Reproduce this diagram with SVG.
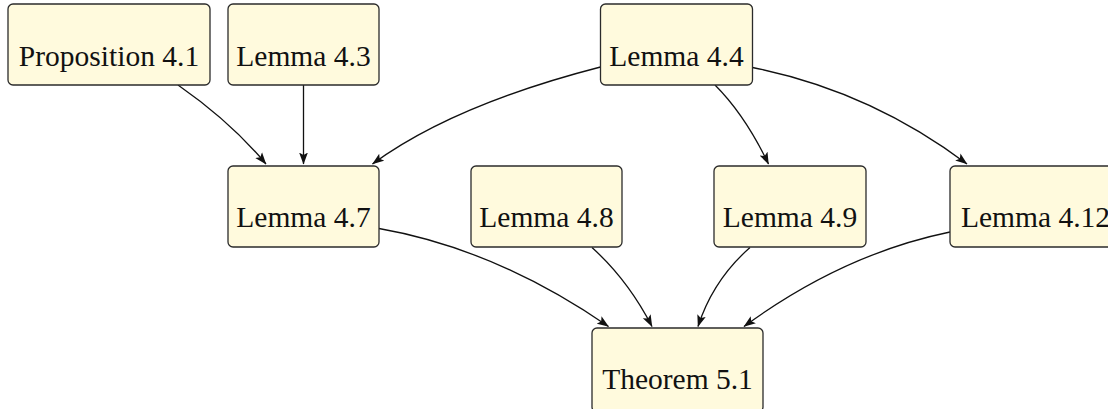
<svg xmlns="http://www.w3.org/2000/svg" width="1108" height="409" viewBox="0 0 1108 409">
<style>
.box{fill:#fffadd;stroke:#2b2b2b;stroke-width:1.3}
.lbl{font-family:"Liberation Serif","Times New Roman",serif;font-size:29.5px;fill:#111;text-anchor:middle}
.edge{fill:none;stroke:#111;stroke-width:1.3}
</style>
<defs>
<marker id="arr" viewBox="0 0 12 10" refX="11.5" refY="5" markerWidth="12" markerHeight="10" markerUnits="userSpaceOnUse" orient="auto">
<path d="M0,0.6 L12,5 L0,9.4 L2.6,5 Z" fill="#111"/>
</marker>
</defs>
<rect width="1108" height="409" fill="#ffffff"/>
<g id="connectors">
<path class="edge" marker-end="url(#arr)" d="M178,85 Q231,122 266,164"/>
<path class="edge" marker-end="url(#arr)" d="M303.5,85 L303.5,164"/>
<path class="edge" marker-end="url(#arr)" d="M600.5,67 Q453,105 372.5,164"/>
<path class="edge" marker-end="url(#arr)" d="M715,85 Q745,115 768.5,164"/>
<path class="edge" marker-end="url(#arr)" d="M752.5,67.5 Q870,91 967,164"/>
<path class="edge" marker-end="url(#arr)" d="M379,228.5 Q496,249 608.5,326.5"/>
<path class="edge" marker-end="url(#arr)" d="M592,247.5 Q628,280 652,326.5"/>
<path class="edge" marker-end="url(#arr)" d="M750,247.5 Q713,280 698,326.5"/>
<path class="edge" marker-end="url(#arr)" d="M950,232 Q843,254 744,326.5"/>
</g>
<g id="prop41"><rect class="box" x="8" y="4" width="202" height="81" rx="5"/><text class="lbl" x="109" y="65.5">Proposition 4.1</text></g>
<g id="lem43"><rect class="box" x="228" y="4" width="151" height="81" rx="5"/><text class="lbl" x="303.5" y="65.5">Lemma 4.3</text></g>
<g id="lem44"><rect class="box" x="600.5" y="4" width="152" height="81" rx="5"/><text class="lbl" x="676.5" y="65.5">Lemma 4.4</text></g>
<g id="lem47"><rect class="box" x="228" y="166" width="151" height="81" rx="5"/><text class="lbl" x="303.5" y="227">Lemma 4.7</text></g>
<g id="lem48"><rect class="box" x="471" y="166" width="151" height="81" rx="5"/><text class="lbl" x="546.5" y="227">Lemma 4.8</text></g>
<g id="lem49"><rect class="box" x="714" y="166" width="152" height="81" rx="5"/><text class="lbl" x="790" y="227">Lemma 4.9</text></g>
<g id="lem412"><rect class="box" x="950" y="166" width="172" height="81" rx="5"/><text class="lbl" x="961" y="227" style="text-anchor:start">Lemma 4.12</text></g>
<g id="thm51"><rect class="box" x="592" y="328" width="171" height="84" rx="5"/><text class="lbl" x="677.5" y="389">Theorem 5.1</text></g>
</svg>
